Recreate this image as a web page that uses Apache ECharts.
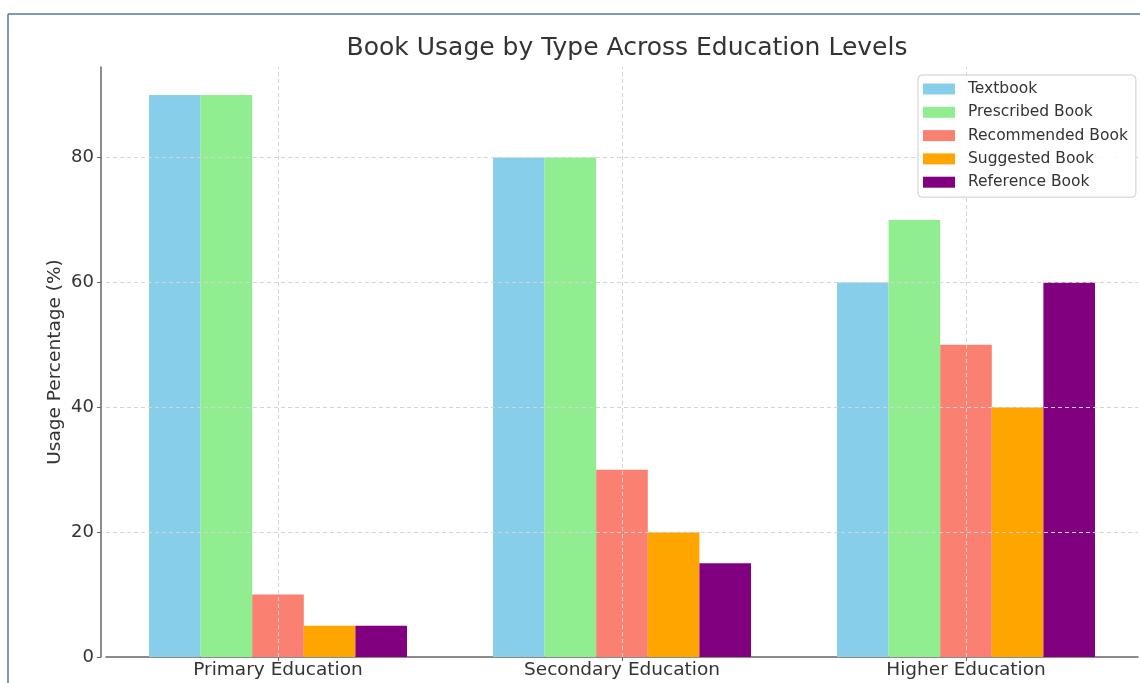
<!DOCTYPE html>
<html>
<head>
<meta charset="utf-8">
<title>Book Usage by Type Across Education Levels</title>
<script src="https://cdn.jsdelivr.net/npm/echarts@6/dist/echarts.min.js"></script>
<style>
  html, body { margin: 0; padding: 0; background: #ffffff; }
  #chart { width: 1140px; height: 683px; }
</style>
</head>
<body>
<div id="chart"></div>
<script>
// Education levels on the x axis
const levels = ['Primary Education', 'Secondary Education', 'Higher Education'];

// Usage percentage per book type, one value per education level
const textbook    = [90, 80, 60];
const prescribed  = [90, 80, 70];
const recommended = [10, 30, 50];
const suggested   = [5, 20, 40];
const reference   = [5, 15, 60];

const seriesNames  = ['Textbook', 'Prescribed Book', 'Recommended Book', 'Suggested Book', 'Reference Book'];
const seriesColors = ['#87CEEB', '#90EE90', '#FA8072', '#FFA500', '#800080'];
const seriesValues = [textbook, prescribed, recommended, suggested, reference];

// Y axis tick values (gridlines drawn at these)
const yTicks = [0, 20, 40, 60, 80];

const FONT = 'DejaVu Sans';
const gridStyle = { color: '#d4d4d4', width: 1, type: [4, 3] };

const series = seriesNames.map((name, i) => ({
  name: name,
  type: 'bar',
  data: seriesValues[i],
  barWidth: '15%',
  barGap: '0%',
  itemStyle: { color: seriesColors[i] },
  emphasis: { disabled: true },
  z: 2
}));

// Gridlines sit above the bars, so they are drawn as mark lines
// on an empty line series (category centres, not bar slots)
series.push({
  name: '__grid',
  type: 'line',
  data: [],
  silent: true,
  symbol: 'none',
  z: 5,
  markLine: {
    silent: true,
    symbol: ['none', 'none'],
    label: { show: false },
    lineStyle: gridStyle,
    animation: false,
    data: yTicks.filter(v => v > 0).map(v => ({ yAxis: v }))
      .concat(levels.map(c => ({ xAxis: c })))
  }
});

const chart = echarts.init(document.getElementById('chart'), null, { renderer: 'canvas' });
chart.setOption({
  animation: false,
  backgroundColor: '#ffffff',
  textStyle: { fontFamily: FONT },
  title: {
    text: 'Book Usage by Type Across Education Levels',
    left: 622,
    textAlign: 'center',
    top: 31,
    textStyle: { fontFamily: FONT, fontSize: 25, fontWeight: 'normal', color: '#333333' }
  },
  legend: {
    data: seriesNames,
    orient: 'vertical',
    left: 918,
    top: 75,
    z: 10,
    padding: [6, 8, 7, 5],
    itemWidth: 32,
    itemHeight: 11,
    itemGap: 7.3,
    icon: 'rect',
    borderColor: '#cccccc',
    borderWidth: 1,
    borderRadius: 4,
    backgroundColor: 'rgba(255,255,255,0.85)',
    textStyle: { fontFamily: FONT, fontSize: 15.5, color: '#333333', lineHeight: 15.5, padding: [0, 0, 0, 8] }
  },
  grid: { left: 106, top: 67, width: 1032, height: 590, containLabel: false },
  xAxis: {
    type: 'category',
    data: levels,
    boundaryGap: true,
    axisLine: { show: true, lineStyle: { color: '#666666', width: 1.5 } },
    axisTick: { show: true, alignWithLabel: true, length: 4, lineStyle: { color: '#666666' } },
    axisLabel: { fontFamily: FONT, fontSize: 18.5, color: '#333333', margin: 4 },
    splitLine: { show: false }
  },
  yAxis: {
    type: 'value',
    min: 0,
    max: 94.5,
    interval: 20,
    offset: 5,
    name: 'Usage Percentage (%)',
    nameLocation: 'middle',
    nameGap: 36,
    nameMoveOverlap: false,
    nameTextStyle: { fontFamily: FONT, fontSize: 18.5, color: '#333333' },
    axisLine: { show: true, lineStyle: { color: '#666666', width: 1.5 } },
    axisTick: { show: true, length: 4, lineStyle: { color: '#666666' } },
    axisLabel: {
      fontFamily: FONT, fontSize: 18, color: '#333333', margin: 7,
      showMaxLabel: false,
      formatter: v => (yTicks.indexOf(v) >= 0 ? String(v) : '')
    },
    splitLine: { show: false }
  },
  graphic: [
    { type: 'line', shape: { x1: 8, y1: 14, x2: 1140, y2: 14 }, style: { stroke: '#4f7aa0', lineWidth: 1.5 }, silent: true },
    { type: 'line', shape: { x1: 8, y1: 14, x2: 8, y2: 683 }, style: { stroke: '#4f7aa0', lineWidth: 1.5 }, silent: true }
  ],
  series: series
});
</script>
</body>
</html>
